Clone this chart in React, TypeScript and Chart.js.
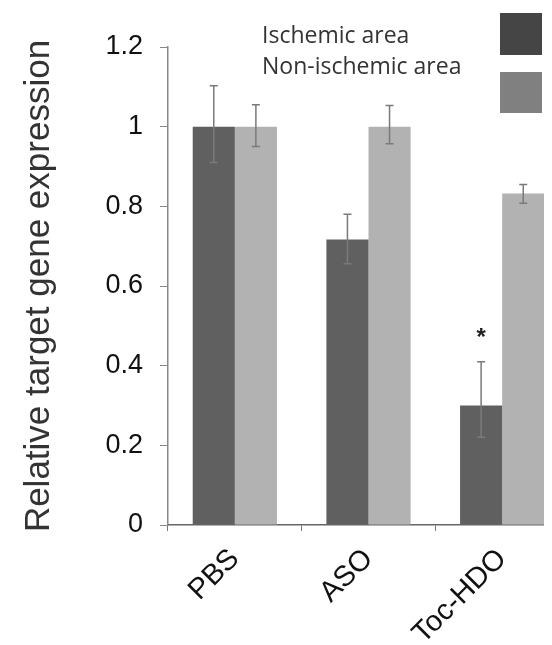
import React, { useEffect, useRef } from "react";
import { Chart, registerables } from "chart.js";

Chart.register(...registerables);

const categories = ["PBS", "ASO", "Toc-HDO"];
const seriesNames = ["Ischemic area", "Non-ischemic area"];
const ischemic = [1.0, 0.717, 0.3];
const ischemicHigh = [1.103, 0.78, 0.41];
const ischemicLow = [0.91, 0.656, 0.22];
const nonIschemic = [1.0, 1.0, 0.832];
const nonIschemicHigh = [1.055, 1.053, 0.855];
const nonIschemicLow = [0.95, 0.957, 0.808];
const significance = ["", "", "*"];
const yTicks = [0, 0.2, 0.4, 0.6, 0.8, 1.0, 1.2];

const barColors = ["#606060", "#b2b2b2"];
const legendColors = ["#454545", "#808080"];

const errorBarPlugin = {
  id: "errorBars",
  afterDatasetsDraw(chart: any) {
    const ctx = chart.ctx;
    const y = chart.scales.y;
    const highs = [ischemicHigh, nonIschemicHigh];
    const lows = [ischemicLow, nonIschemicLow];
    ctx.save();
    ctx.strokeStyle = "#7a7a7a";
    ctx.lineWidth = 1.5;
    chart.data.datasets.forEach((ds: any, di: number) => {
      const meta = chart.getDatasetMeta(di);
      meta.data.forEach((bar: any, i: number) => {
        const yh = y.getPixelForValue(highs[di][i]);
        const yl = y.getPixelForValue(lows[di][i]);
        ctx.beginPath();
        ctx.moveTo(bar.x, yh);
        ctx.lineTo(bar.x, yl);
        ctx.moveTo(bar.x - 4, yh);
        ctx.lineTo(bar.x + 4, yh);
        ctx.moveTo(bar.x - 4, yl);
        ctx.lineTo(bar.x + 4, yl);
        ctx.stroke();
      });
    });
    // significance marks
    const meta0 = chart.getDatasetMeta(0);
    ctx.fillStyle = "#222";
    ctx.font = "bold 24px 'Liberation Sans', Arial, sans-serif";
    ctx.textAlign = "center";
    ctx.textBaseline = "alphabetic";
    significance.forEach((s, i) => {
      if (!s) return;
      const bar = meta0.data[i];
      ctx.fillText(s, bar.x, y.getPixelForValue(ischemicHigh[i]) - 17);
    });
    // legend
    ctx.textAlign = "left";
    ctx.textBaseline = "middle";
    ctx.fillStyle = "#333";
    ctx.font = "23px 'Open Sans', sans-serif";
    ctx.fillText(seriesNames[0], 254, 28);
    ctx.fillText(seriesNames[1], 254, 59);
    ctx.fillStyle = legendColors[0];
    ctx.fillRect(492, 5, 42, 42);
    ctx.fillStyle = legendColors[1];
    ctx.fillRect(492, 64, 42, 41);
    ctx.restore();
  },
};

export default function App() {
  const ref = useRef<HTMLCanvasElement>(null);
  useEffect(() => {
    if (!ref.current) return;
    const chart = new Chart(ref.current, {
      type: "bar",
      data: {
        labels: categories,
        datasets: [
          { label: seriesNames[0], data: ischemic, backgroundColor: barColors[0] },
          { label: seriesNames[1], data: nonIschemic, backgroundColor: barColors[1] },
        ],
      },
      options: {
        responsive: false,
        animation: false,
        devicePixelRatio: 1,
        layout: { padding: { top: 39, left: 0, right: 0, bottom: 0 } },
        plugins: { legend: { display: false }, tooltip: { enabled: false } },
        datasets: { bar: { barPercentage: 1, categoryPercentage: 0.63 } },
        scales: {
          x: {
            afterFit(scale: any) {
              scale.height = 120;
            },
            grid: {
              offset: true,
              drawOnChartArea: false,
              drawTicks: true,
              tickLength: 6,
              color: "#777",
            },
            border: { color: "#666", width: 1.5 },
            ticks: {
              autoSkip: false,
              minRotation: 45,
              maxRotation: 45,
              padding: 11,
              color: "#111",
              font: { family: "'Liberation Sans', Arial, sans-serif", size: 29 },
            },
          },
          y: {
            min: 0,
            max: 1.2,
            afterFit(scale: any) {
              scale.width = 160;
            },
            afterBuildTicks(scale: any) {
              scale.ticks = yTicks.map((v) => ({ value: v }));
            },
            grid: {
              drawOnChartArea: false,
              drawTicks: true,
              tickLength: 8,
              color: "#888",
            },
            border: { color: "#888", width: 1.5 },
            ticks: {
              padding: 17,
              color: "#111",
              callback: (v: any) => String(Number(Number(v).toFixed(1))),
              font: { family: "'Liberation Sans', Arial, sans-serif", size: 27 },
            },
            title: {
              display: true,
              text: "Relative target gene expression",
              color: "#333",
              padding: { top: 10, bottom: 0 },
              font: { family: "'Liberation Sans', Arial, sans-serif", size: 35 },
            },
          },
        },
      },
      plugins: [errorBarPlugin],
    });
    return () => chart.destroy();
  }, []);
  return (
    <div style={{ width: 544, height: 637, overflow: "hidden" }}>
      <canvas ref={ref} width={561} height={637} style={{ display: "block" }} />
    </div>
  );
}
